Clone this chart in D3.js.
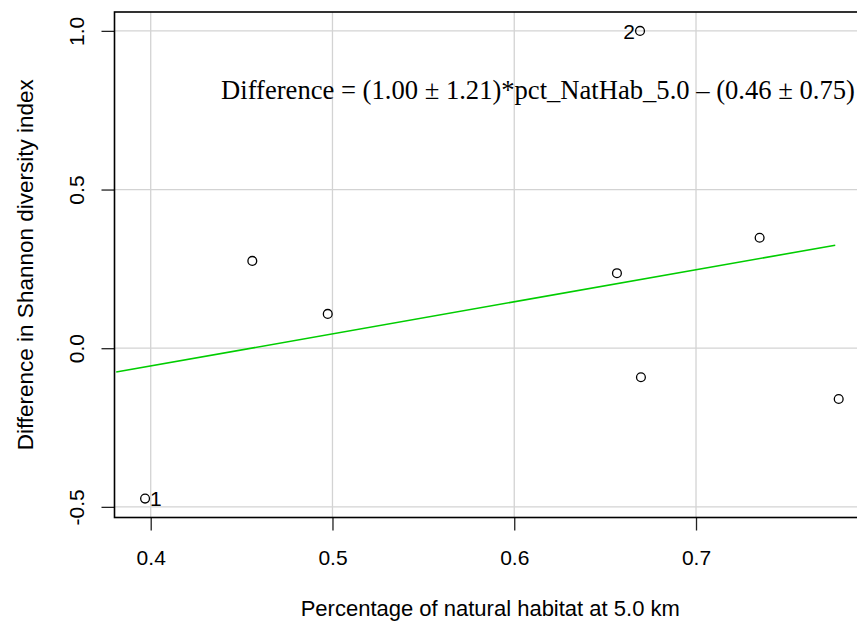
<!DOCTYPE html>
<html>
<head>
<meta charset="utf-8">
<script src="https://cdn.jsdelivr.net/npm/d3@7"></script>
<style>
  body { margin: 0; background: white; }
  svg { display: block; }
</style>
</head>
<body>
<div id="chart"></div>
<script>
// data
const pctNatHab = [0.3969, 0.6692, 0.4559, 0.4974, 0.6565, 0.6697, 0.735, 0.7785];
const difference = [-0.474, 1.0, 0.2751, 0.1081, 0.2364, -0.0914, 0.348, -0.160];
const pointLabels = ["1", "2", "", "", "", "", "", ""];
const fitX = [0.381, 0.7766];
const fitY = [-0.075, 0.3246];
const xTicks = [0.4, 0.5, 0.6, 0.7];
const yTicks = [-0.5, 0.0, 0.5, 1.0];
const yTickLabels = ["-0.5", "0.0", "0.5", "1.0"];
const equation = "Difference = (1.00 \u00b1 1.21)*pct_NatHab_5.0 \u2013 (0.46 \u00b1 0.75)";

const width = 857, height = 623;
const box = {left: 114.5, right: 866, top: 12, bottom: 517.5};

const svg = d3.select("#chart")
  .append("svg")
    .attr("width", width)
    .attr("height", height)
    .style("background-color", "white");

// scales: R style, 4% padding around data range
const xScale = d3.scaleLinear()
  .domain([0.38008, 0.79352])
  .range([box.left, box.right]);

const yScale = d3.scaleLinear()
  .domain([-0.5335, 1.0595])
  .range([box.bottom, box.top]);

// grid
const grid = svg.append("g").attr("stroke", "#d3d3d3").attr("stroke-width", 1.3);
grid.selectAll("line.vx")
  .data(xTicks)
  .enter().append("line")
    .attr("x1", d => xScale(d)).attr("x2", d => xScale(d))
    .attr("y1", box.top).attr("y2", box.bottom);
grid.selectAll("line.hy")
  .data(yTicks)
  .enter().append("line")
    .attr("y1", d => yScale(d)).attr("y2", d => yScale(d))
    .attr("x1", box.left).attr("x2", box.right);

// axes
const xAxis = svg.append("g")
  .attr("transform", `translate(0,${box.bottom})`)
  .call(d3.axisBottom(xScale).tickValues(xTicks).tickSize(13).tickFormat(d3.format(".1f")));
xAxis.select(".domain").remove();
xAxis.selectAll("line").attr("stroke", "#222").attr("stroke-width", 1.3);
xAxis.selectAll("text")
  .attr("fill", "black")
  .style("font-family", "Liberation Sans, Arial, sans-serif")
  .style("font-size", "21px")
  .attr("dy", null)
  .attr("y", 47);

const yAxis = svg.append("g")
  .attr("transform", `translate(${box.left},0)`)
  .call(d3.axisLeft(yScale).tickValues(yTicks).tickSize(13).tickFormat((d, i) => yTickLabels[i]));
yAxis.select(".domain").remove();
yAxis.selectAll("line").attr("stroke", "#222").attr("stroke-width", 1.3);
yAxis.selectAll("text")
  .attr("fill", "black")
  .style("font-family", "Liberation Sans, Arial, sans-serif")
  .style("font-size", "21px")
  .attr("text-anchor", "middle")
  .attr("x", null).attr("dy", null)
  .attr("transform", "translate(-30.5,0) rotate(-90)");

// fitted line
svg.append("path")
  .datum(fitX.map((x, i) => [x, fitY[i]]))
  .attr("fill", "none")
  .attr("stroke", "#00cd00")
  .attr("stroke-width", 1.6)
  .attr("d", d3.line().x(d => xScale(d[0])).y(d => yScale(d[1])));

// points
svg.selectAll("circle")
  .data(pctNatHab)
  .enter().append("circle")
    .attr("cx", d => xScale(d))
    .attr("cy", (d, i) => yScale(difference[i]))
    .attr("r", 4.4)
    .attr("fill", "none")
    .attr("stroke", "black")
    .attr("stroke-width", 1.3);

// point labels: 1 to the right, 2 to the left
svg.selectAll("text.plab")
  .data(pointLabels)
  .enter().append("text")
    .attr("class", "plab")
    .attr("x", (d, i) => xScale(pctNatHab[i]) + (i === 0 ? 5 : -5))
    .attr("y", (d, i) => yScale(difference[i]) + 7.8)
    .attr("text-anchor", (d, i) => i === 0 ? "start" : "end")
    .style("font-family", "Liberation Sans, Arial, sans-serif")
    .style("font-size", "21px")
    .text(d => d);

// equation
svg.append("text")
  .attr("x", 538)
  .attr("y", 99)
  .attr("text-anchor", "middle")
  .style("font-family", "Liberation Serif, Times New Roman, serif")
  .style("font-size", "26.6px")
  .text(equation);

// box
svg.append("rect")
  .attr("x", box.left).attr("y", box.top)
  .attr("width", box.right - box.left).attr("height", box.bottom - box.top)
  .attr("fill", "none")
  .attr("stroke", "black")
  .attr("stroke-width", 1.6);

// axis titles
svg.append("text")
  .attr("x", (box.left + box.right) / 2)
  .attr("y", 616)
  .attr("text-anchor", "middle")
  .style("font-family", "Liberation Sans, Arial, sans-serif")
  .style("font-size", "22px")
  .text("Percentage of natural habitat at 5.0 km");

svg.append("text")
  .attr("transform", `translate(33,${(box.top + box.bottom) / 2}) rotate(-90)`)
  .attr("text-anchor", "middle")
  .style("font-family", "Liberation Sans, Arial, sans-serif")
  .style("font-size", "22.5px")
  .text("Difference in Shannon diversity index");
</script>
</body>
</html>
